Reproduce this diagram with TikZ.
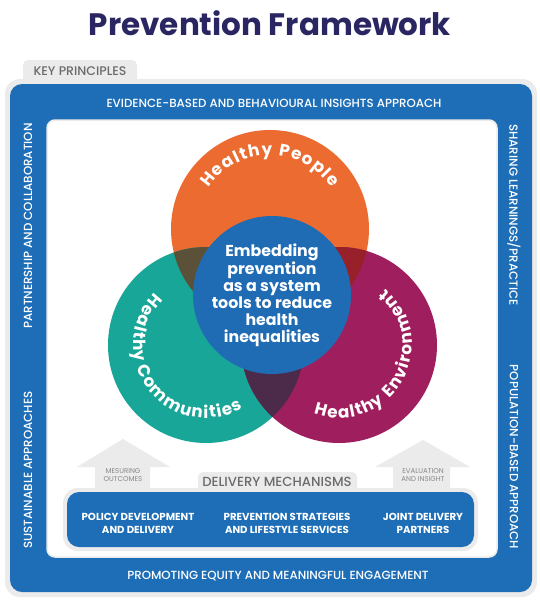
\documentclass[tikz,border=0pt]{standalone}
\usepackage{fontspec}
\setmainfont{Poppins}
\newfontfamily\medfont{Poppins}[UprightFont=* Medium]
\usetikzlibrary{calc, decorations.text}
\definecolor{cNavy}{HTML}{2A2662}
\definecolor{cFrame}{HTML}{1E6EB7}
\definecolor{cCore}{HTML}{1F6CB4}
\definecolor{cOrange}{HTML}{EB6B30}
\definecolor{cTeal}{HTML}{17A697}
\definecolor{cMagenta}{HTML}{9F1F5E}
\definecolor{cOlive}{HTML}{5A5138}
\definecolor{cWine}{HTML}{98202A}
\definecolor{cPlum}{HTML}{4B2A4A}
\definecolor{cTab}{HTML}{EBEBEB}
\definecolor{cTabText}{HTML}{6B6B6B}

\newcommand{\curvefont}{\bfseries\fontsize{16.8}{17}\selectfont}

\begin{document}
\begin{tikzpicture}[
    x=1pt, y=1pt,
    band/.style={text=white, font=\medfont\fontsize{11.8}{13}\selectfont, inner sep=0pt},
    tabtxt/.style={text=cTabText, font=\medfont\fontsize{#1}{14}\selectfont, inner sep=0pt},
    hint/.style={text=cTabText!80, font=\fontsize{7}{8.5}\selectfont, align=center, inner sep=0pt},
    pilltxt/.style={text=white, font=\bfseries\fontsize{10.2}{13}\selectfont, align=center, inner sep=0pt},
    ring/.style={circle, inner sep=0pt, minimum size=#1},
    curved/.style={font=\curvefont, decorate, decoration={text effects along path, text={#1}, text align=center,
        text effects/.cd, text along path, character widths={inner xsep=0.6pt},
        characters={text=white}}},
]

\useasboundingbox (0,0) rectangle (540,-600);
\fill[white] (0,0) rectangle (540,-600);

% =============================================
% TITLE
% =============================================
\node[text=cNavy, font=\bfseries\fontsize{31}{34}\selectfont] (title) at (270,-23) {Prevention Framework};

% =============================================
% KEY PRINCIPLES FRAME
% =============================================
\fill[cTab, rounded corners=5] (23,-60) rectangle (137,-90);
\node[tabtxt=12.5] (keytab) at (80,-71) {KEY PRINCIPLES};

\fill[cTab, rounded corners=15] (5,-79) rectangle (537,-597);
\fill[cFrame, rounded corners=12] (10,-84) rectangle (532,-592);
\draw[cTab, line width=1.5pt, fill=white, rounded corners=8] (47,-120) rectangle (497,-557);

% principles written round the frame
\node[band] (ptop) at (274,-103) {EVIDENCE-BASED AND BEHAVIOURAL INSIGHTS APPROACH};
\node[band] (pbot) at (278,-576) {PROMOTING EQUITY AND MEANINGFUL ENGAGEMENT};
\node[band, rotate=90] (pleftA) at (28,-226) {PARTNERSHIP AND COLLABORATION};
\node[band, rotate=90] (pleftB) at (28,-470) {SUSTAINABLE APPROACHES};
\node[band, rotate=-90] (prightA) at (514,-215) {SHARING LEARNINGS/PRACTICE};
\node[band, rotate=-90] (prightB) at (514,-457) {POPULATION-BASED APPROACH};

% =============================================
% VENN: three circles + overlaps
% =============================================
\node[ring=198pt, fill=cOrange] (people) at (270,-229) {};
\node[ring=196pt, fill=cTeal] (comm) at (206,-345) {};
\node[ring=196pt, fill=cMagenta] (env) at (339,-345) {};

% overlaps
\begin{scope}
    \clip (people.center) circle[radius=99];
    \fill[cOlive] (comm.center) circle[radius=98];
    \fill[cWine] (env.center) circle[radius=98];
\end{scope}
\begin{scope}
    \clip (comm.center) circle[radius=98];
    \fill[cPlum] (env.center) circle[radius=98];
\end{scope}

% core
\node[ring=148pt, fill=cCore, text=white, align=center,
      font=\bfseries\fontsize{15.8}{17}\selectfont] (core) at (272,-295)
    {Embedding\\prevention\\as a system\\tools to reduce\\health\\inequalities};

% curved labels
\path[curved={Healthy People}]
    ($(people.center)+(170:74)$) arc[start angle=170, end angle=10, radius=74];
\path[curved={Healthy Communities}]
    ($(comm.center)+(115:73)$) arc[start angle=115, end angle=320, radius=73];
\path[curved={Healthy Environment}]
    ($(env.center)+(230:73)$) arc[start angle=230, end angle=430, radius=73];

% =============================================
% DELIVERY MECHANISMS
% =============================================
% up arrows
\fill[cTab] (123,-439) -- (170,-467) -- (150,-467) -- (150,-495)
    -- (95,-495) -- (95,-467) -- (77,-467) -- cycle;
\fill[cTab] (423,-440) -- (470,-467) -- (450,-467) -- (450,-495)
    -- (393,-495) -- (393,-467) -- (375,-467) -- cycle;
\node[hint] (measure) at (123,-475) {MESURING\\OUTCOMES};
\node[hint] (evalin) at (423,-475) {EVALUATION\\AND INSIGHT};

\fill[cTab, rounded corners=5] (198,-472) rectangle (357,-495);
\node[tabtxt=13.2] (delivtab) at (277,-482) {DELIVERY MECHANISMS};

\fill[cTab, rounded corners=15] (63,-488) rectangle (478,-551);
\fill[cFrame, rounded corners=12] (67,-492) rectangle (474,-547);

\node[pilltxt] (policy) at (138,-523) {POLICY DEVELOPMENT\\AND DELIVERY};
\node[pilltxt] (strat) at (287,-523) {PREVENTION STRATEGIES\\AND LIFESTYLE SERVICES};
\node[pilltxt] (joint) at (423,-523) {JOINT DELIVERY\\PARTNERS};

\end{tikzpicture}
\end{document}
